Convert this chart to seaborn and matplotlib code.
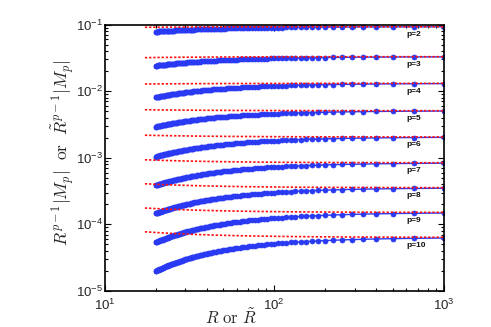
import numpy as np
import pandas as pd
import matplotlib
matplotlib.use("Agg")
import matplotlib.pyplot as plt
import seaborn as sns
from matplotlib.ticker import LogLocator, NullFormatter

# ---------------- data ----------------
p_values = [2, 3, 4, 5, 6, 7, 8, 9, 10]
label_texts = ["p=2", "p=3", "p=4", "p=5", "p=6", "p=7", "p=8", "p=9", "p=10"]
# common value at the right edge (R = 1000)
value_R1000 = [0.0927, 0.0329, 0.01309, 0.00508, 0.00205, 0.000841, 0.000355, 0.000151, 6.38e-5]
# blue (exact) curves, value at their left end (R = 20)
exact_R20 = [0.0780, 0.0240, 0.00807, 0.00292, 0.001035, 0.000385, 0.000146, 5.37e-5, 1.99e-5]
# red (asymptotic) curves, value at their left end (R = 17.3)
asym_R17 = [0.0908, 0.0318, 0.0128, 0.00526, 0.00218, 0.000933, 0.000407, 0.000176, 7.74e-5]
R_exact = [2000.0 / n for n in range(2, 101)]        # marker positions R = 2000/n
R_asym = list(np.geomspace(17.3, 1000, 80))
label_R = 603
xticks = [10, 100, 1000]
yticks = [1e-5, 1e-4, 1e-3, 1e-2, 1e-1]

# ---------------- build tables ----------------
rows_b, rows_r = [], []
for p, A, y20, y17 in zip(p_values, value_R1000, exact_R20, asym_R17):
    c = 20.0 * (1.0 - (y20 / A) ** (1.0 / (p - 1)))
    d = 17.3 * (y17 / A - 1.0)
    for R in R_exact:
        rows_b.append({"R": R, "v": A * (1 - c / R) ** (p - 1), "p": p})
    for R in R_asym:
        rows_r.append({"R": R, "v": A * (1 + d / R), "p": p})
df_b = pd.DataFrame(rows_b)
df_r = pd.DataFrame(rows_r)

# ---------------- style ----------------
sns.set_style("ticks")
plt.rcParams["font.family"] = ["Liberation Sans", "DejaVu Sans"]
plt.rcParams["mathtext.fontset"] = "custom"
plt.rcParams["mathtext.rm"] = "Liberation Sans"
plt.rcParams["mathtext.it"] = "Liberation Sans:italic"
plt.rcParams["mathtext.bf"] = "Liberation Sans:bold"
plt.rcParams["axes.unicode_minus"] = False

fig = plt.figure(figsize=(4.91, 3.27), dpi=100)
ax = fig.add_axes([104.5 / 491, 1 - 291 / 327, (444 - 104.5) / 491, (291 - 24.5) / 327])
ax.set_xscale("log")
ax.set_yscale("log")

blue = "#2a3af2"
sns.lineplot(data=df_b, x="R", y="v", units="p", estimator=None, sort=False,
             color=blue, marker="o", markersize=3.6, markeredgecolor=blue,
             markeredgewidth=0.5, linewidth=1.0, legend=False, ax=ax)
sns.lineplot(data=df_r, x="R", y="v", units="p", estimator=None, sort=False,
             color="#ff1010", linewidth=1.2, linestyle=(0, (1.4, 1.1)),
             legend=False, ax=ax)

for txt, A in zip(label_texts, value_R1000):
    ax.annotate(txt, xy=(label_R, A), xytext=(0, -3), textcoords="offset points",
                ha="left", va="top", fontsize=6, fontweight="bold", color="#111111")

ax.set_xlim(10, 1000)
ax.set_ylim(1e-5, 1e-1)
ax.set_xticks(xticks)
ax.set_yticks(yticks)
ax.xaxis.set_minor_locator(LogLocator(base=10, subs=np.arange(2, 10), numticks=20))
ax.yaxis.set_minor_locator(LogLocator(base=10, subs=np.arange(2, 10), numticks=20))
ax.xaxis.set_minor_formatter(NullFormatter())
ax.yaxis.set_minor_formatter(NullFormatter())
ax.tick_params(which="both", direction="in", top=True, right=True, color="black", width=0.8)
ax.tick_params(which="major", length=4, labelsize=9.5)
ax.tick_params(which="minor", length=2)
ax.tick_params(axis="y", pad=1.2)
ax.tick_params(axis="x", pad=5)
for s in ax.spines.values():
    s.set_linewidth(1.2)
    s.set_color("black")

ax.set_xlabel(r"$R\ \mathrm{or}\ \tilde{R}$", fontsize=12, math_fontfamily="cm", va="center")
ax.set_ylabel(r"$R^{p-1}|M_p|\ \ \mathrm{or}\ \ \tilde{R}^{p-1}|M_p|$", fontsize=12.5,
              math_fontfamily="cm", va="center")
ax.xaxis.set_label_coords((231 - 104.5) / 339.5, (291 - 317) / 266.5)
ax.yaxis.set_label_coords((63 - 104.5) / 339.5, (291 - 153) / 266.5)

fig.savefig("out.png", dpi=100)
